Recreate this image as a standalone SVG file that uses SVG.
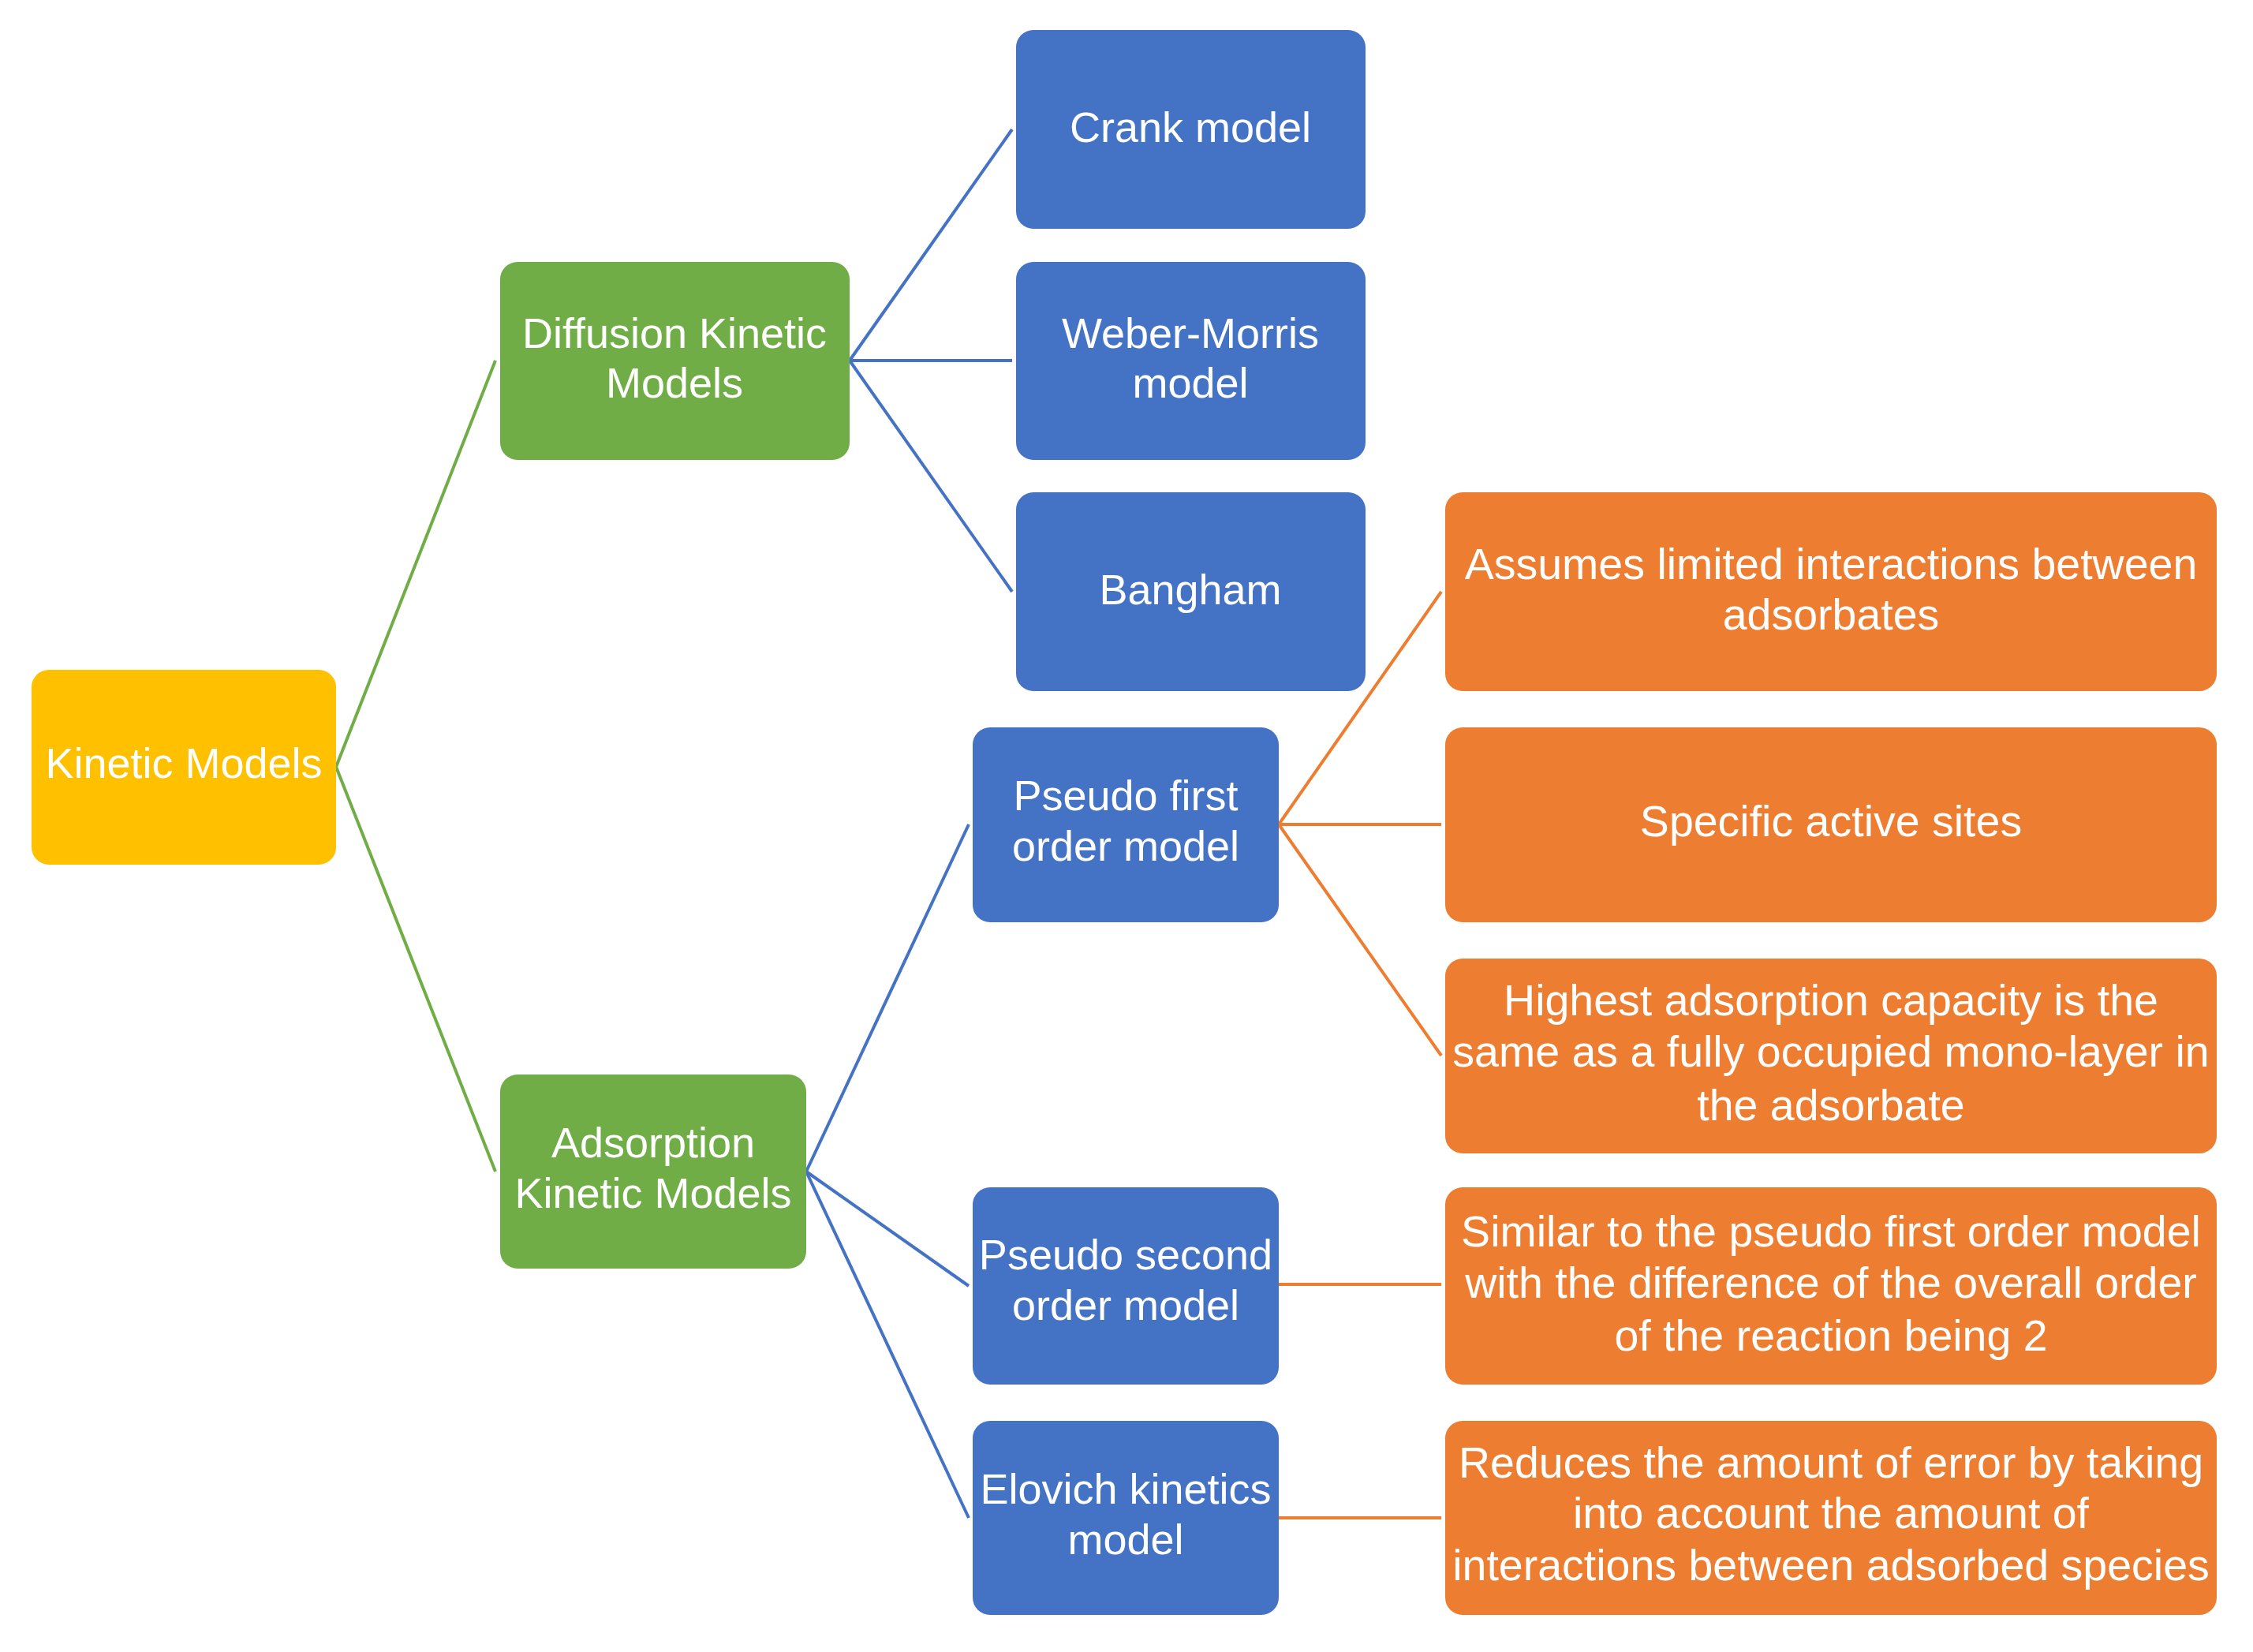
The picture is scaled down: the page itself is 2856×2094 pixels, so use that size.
<svg xmlns="http://www.w3.org/2000/svg" width="2856" height="2094" viewBox="0 0 2856 2094">
<style>
.box{stroke:none}
.y{fill:#FFC000}.g{fill:#70AD47}.b{fill:#4472C4}.o{fill:#ED7D31}
text{font-family:"Liberation Sans",Arial,sans-serif;font-size:54px;fill:#FFFFFF;text-anchor:middle}
.note text{font-size:55.5px}
.cg{stroke:#70AD47;stroke-width:4;fill:none}
.cb{stroke:#4472C4;stroke-width:4;fill:none}
.co{stroke:#ED7D31;stroke-width:4;fill:none}
</style>
<rect x="0" y="0" width="2856" height="2094" fill="#FFFFFF"/>
<g id="connectors">
<line class="cg" x1="426" y1="972" x2="628" y2="457"/>
<line class="cg" x1="426" y1="972" x2="628" y2="1485"/>
<line class="cb" x1="1077" y1="457" x2="1283" y2="164"/>
<line class="cb" x1="1077" y1="457" x2="1283" y2="457"/>
<line class="cb" x1="1077" y1="457" x2="1283" y2="750"/>
<line class="cb" x1="1022" y1="1485" x2="1228" y2="1045"/>
<line class="cb" x1="1022" y1="1485" x2="1228" y2="1630"/>
<line class="cb" x1="1022" y1="1485" x2="1228" y2="1924"/>
<line class="co" x1="1621" y1="1045" x2="1827" y2="750"/>
<line class="co" x1="1621" y1="1045" x2="1827" y2="1045"/>
<line class="co" x1="1621" y1="1045" x2="1827" y2="1338"/>
<line class="co" x1="1621" y1="1628" x2="1827" y2="1628"/>
<line class="co" x1="1621" y1="1924" x2="1827" y2="1924"/>
</g>
<g id="kinetic-models">
<rect class="box y" x="40" y="849" width="386" height="247" rx="22"/>
<text x="233" y="986">Kinetic Models</text>
</g>
<g id="diffusion">
<rect class="box g" x="634" y="332" width="443" height="251" rx="22"/>
<text x="855" y="441">Diffusion Kinetic</text>
<text x="855" y="504">Models</text>
</g>
<g id="adsorption">
<rect class="box g" x="634" y="1362" width="388" height="246" rx="22"/>
<text x="828" y="1467">Adsorption</text>
<text x="828" y="1531">Kinetic Models</text>
</g>
<g id="crank">
<rect class="box b" x="1288" y="38" width="443" height="252" rx="22"/>
<text x="1509" y="180">Crank model</text>
</g>
<g id="weber-morris">
<rect class="box b" x="1288" y="332" width="443" height="251" rx="22"/>
<text x="1509" y="441">Weber-Morris</text>
<text x="1509" y="504">model</text>
</g>
<g id="bangham">
<rect class="box b" x="1288" y="624" width="443" height="252" rx="22"/>
<text x="1509" y="766">Bangham</text>
</g>
<g id="pseudo-first">
<rect class="box b" x="1233" y="922" width="388" height="247" rx="22"/>
<text x="1427" y="1027">Pseudo first</text>
<text x="1427" y="1091">order model</text>
</g>
<g id="pseudo-second">
<rect class="box b" x="1233" y="1505" width="388" height="250" rx="22"/>
<text x="1427" y="1609">Pseudo second</text>
<text x="1427" y="1673">order model</text>
</g>
<g id="elovich">
<rect class="box b" x="1233" y="1801" width="388" height="246" rx="22"/>
<text x="1427" y="1906">Elovich kinetics</text>
<text x="1427" y="1970">model</text>
</g>
<g id="note-limited" class="note">
<rect class="box o" x="1832" y="624" width="978" height="252" rx="22"/>
<text x="2321" y="734">Assumes limited interactions between</text>
<text x="2321" y="798">adsorbates</text>
</g>
<g id="note-sites" class="note">
<rect class="box o" x="1832" y="922" width="978" height="247" rx="22"/>
<text x="2321" y="1060">Specific active sites</text>
</g>
<g id="note-capacity" class="note">
<rect class="box o" x="1832" y="1215" width="978" height="247" rx="22"/>
<text x="2321" y="1287">Highest adsorption capacity is the</text>
<text x="2321" y="1352">same as a fully occupied mono-layer in</text>
<text x="2321" y="1420">the adsorbate</text>
</g>
<g id="note-second" class="note">
<rect class="box o" x="1832" y="1505" width="978" height="250" rx="22"/>
<text x="2321" y="1580">Similar to the pseudo first order model</text>
<text x="2321" y="1645">with the difference of the overall order</text>
<text x="2321" y="1712">of the reaction being 2</text>
</g>
<g id="note-elovich" class="note">
<rect class="box o" x="1832" y="1801" width="978" height="246" rx="22"/>
<text x="2321" y="1873">Reduces the amount of error by taking</text>
<text x="2321" y="1937">into account the amount of</text>
<text x="2321" y="2003">interactions between adsorbed species</text>
</g>
</svg>
